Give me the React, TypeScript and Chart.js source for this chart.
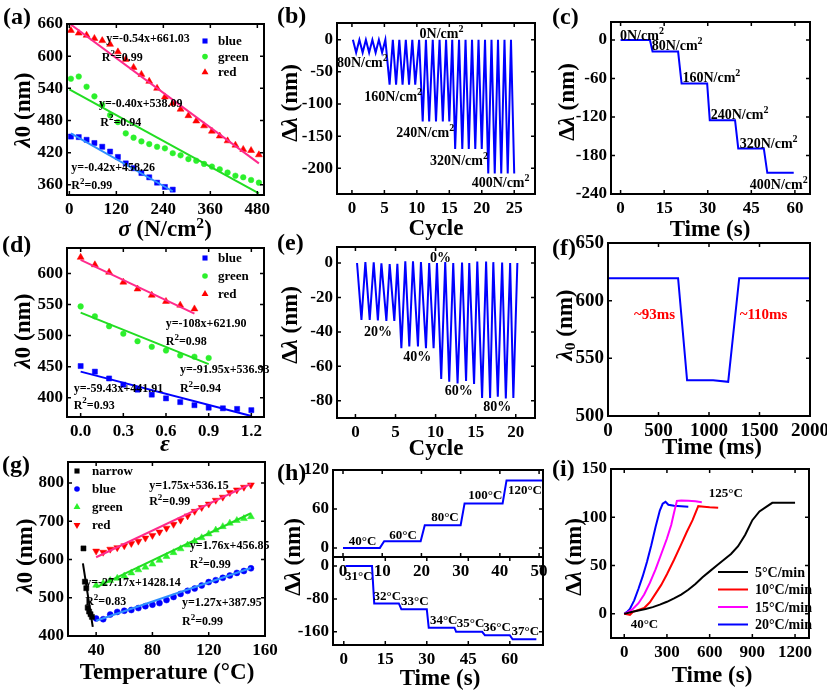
import React, { useEffect, useRef } from "react";
import { Chart, registerables } from "chart.js";
Chart.register(...registerables);

const SERIF = '"Liberation Serif", "Times New Roman", Times, serif';
Chart.defaults.font.family = SERIF;
Chart.defaults.color = "#000";

// ---------- colours ----------
const BLUE = "#0000ff";
const LBLUE = "#2f8fff";
const GREEN = "#2cf02c";
const GREENL = "#22dd22";
const RED = "#ff0000";
const PINK = "#ff2a8c";
const MAG = "#ff00ff";

// ---------- (a) stress vs wavelength ----------
const aStress = [4, 24, 44, 64, 84, 104, 124, 144, 164, 184, 204, 224, 244, 264, 284, 304, 324, 344, 364, 384, 404, 424, 444, 464, 484];
const aBlue = [450, 449, 444, 438, 431, 422, 412, 400, 391, 382, 374, 364, 356, 351];
const aGreen = [558, 562, 543, 525, 509, 490, 477, 456, 448, 441, 436, 431, 428, 419, 415, 408, 405, 399, 394, 389, 383, 377, 374, 369, 364];
const aRed = [648, 643, 639, 633, 629, 622, 608, 594, 579, 566, 553, 540, 524, 512, 501, 489, 479, 470, 460, 451, 442, 434, 426, 424, 416];
const aFitX = [0, 484];
const aBlueFitX = [4, 264];
const aBlueFitY = [456, 348];
const aGreenFitY = [538, 344];
const aRedFitY = [661, 400];
const aXTicks = [0, 120, 240, 360, 480];
const aYTicks = [360, 420, 480, 540, 600, 660];

// ---------- (b) cycles under pressure ----------
const bX = [0.15, 0.65, 1.15, 1.65, 2.15, 2.65, 3.15, 3.65, 4.15, 4.65, 5.15, 5.8, 6.3, 6.8, 7.3, 7.8, 8.3, 8.8, 9.3, 9.75, 10.35, 10.9, 11.4, 11.9, 12.45, 12.95, 13.5, 14.0, 14.5, 15.0, 15.45, 15.9, 16.5, 17.0, 17.5, 18.0, 18.5, 19.0, 19.5, 20.0, 20.5, 21.0, 21.5, 22.0, 22.5, 23.0, 23.5, 24.0, 24.5, 25.0];
const bY = [0, -20, 0, -20, 0, -20, 0, -20, 0, -20, 0, -70, 0, -70, 0, -70, 0, -70, 0, -70, 0, -127, 0, -127, 0, -127, 0, -127, 0, -127, 0, -170, 0, -170, 0, -170, 0, -170, 0, -170, 0, -208, 0, -208, 0, -208, 0, -208, 0, -208];
const bXTicks = [0, 5, 10, 15, 20, 25];
const bYTicks = [-200, -150, -100, -50, 0];

// ---------- (c) steps under pressure ----------
const cX = [0, 10.1, 11, 19.8, 21, 29.8, 30.7, 39.4, 40.5, 49.3, 50.5, 59.6];
const cY = [0, 0, -18, -18, -68, -68, -125, -125, -169, -169, -207, -207];
const cXTicks = [0, 15, 30, 45, 60];
const cYTicks = [-240, -180, -120, -60, 0];

// ---------- (d) strain vs wavelength ----------
const dStrain = [0, 0.1, 0.2, 0.3, 0.4, 0.5, 0.6, 0.7, 0.8, 0.9, 1.0, 1.1, 1.2];
const dBlue = [451, 442, 431, 421, 413, 405, 399, 393, 388, 384, 383, 382, 380];
const dGreen = [547, 531, 515, 503, 491, 482, 476, 468, 466, 464];
const dRed = [626, 614, 602, 586, 575, 565, 555, 549, 543];
const dBlueFitX = [0, 1.2];
const dBlueFitY = [442, 370.6];
const dGreenFitX = [0, 0.9];
const dGreenFitY = [537, 454];
const dRedFitX = [0, 0.8];
const dRedFitY = [622, 535.5];
const dXTicks = [0, 0.3, 0.6, 0.9, 1.2];
const dYTicks = [400, 450, 500, 550, 600];

// ---------- (e) cycles under strain ----------
const eX = [0.2, 0.75, 1.24, 1.78, 2.28, 2.8, 3.24, 3.86, 4.27, 4.85, 5.23, 5.73, 6.22, 6.72, 7.18, 7.8, 8.17, 8.8, 9.2, 9.75, 10.17, 10.7, 11.2, 11.7, 12.2, 12.74, 13.3, 13.8, 14.2, 14.8, 15.2, 15.8, 16.3, 16.8, 17.2, 17.76, 18.3, 18.76, 19.3, 19.7, 20.2];
const eY = [0, -33, 0.6, -33, 0.4, -33.4, -0.2, -33.6, -0.6, -33.6, -0.4, -49.5, 1, -48.5, 1, -48.5, 0.5, -49.5, 0, -49.5, 0, -67.4, 0.5, -69, 0, -70, 0.3, -68.5, 0, -70.3, 0.8, -78.3, 0.8, -78.3, 0.5, -77.7, 0.3, -78.6, 0, -78.3, 0];
const eXTicks = [0, 5, 10, 15, 20];
const eYTicks = [-80, -60, -40, -20, 0];

// ---------- (f) response time ----------
const fX = [0, 694, 783, 1041, 1190, 1299, 2000];
const fY = [619.5, 619.5, 531, 531, 529.6, 619.5, 619.5];
const fXTicks = [0, 500, 1000, 1500, 2000];
const fYTicks = [500, 550, 600, 650];

// ---------- (g) temperature vs wavelength ----------
const gNarrowX = [31, 32, 33, 34, 35, 36, 37];
const gNarrowY = [629, 542, 525, 474, 464, 457, 450];
const gTemp = [40, 45, 50, 55, 60, 65, 70, 75, 80, 85, 90, 95, 100, 105, 110, 115, 120, 125, 130, 135, 140, 145, 150];
const gBlue = [446, 444, 456, 463, 466, 468, 473, 478, 482, 486, 494, 502, 510, 518, 524, 532, 541, 546, 552, 558, 565, 570, 577];
const gGreen = [533, 538, 545, 551, 557, 565, 573, 580, 588, 598, 608, 618, 628, 638, 648, 657, 667, 677, 686, 695, 702, 707, 712];
const gRed = [622, 619, 627, 631, 636, 642, 648, 656, 663, 672, 682, 692, 703, 714, 726, 736, 745, 755, 763, 775, 782, 789, 795];
const gNarrowFitX = [30.6, 37.6];
const gNarrowFitY = [590, 424];
const gFitX = [40, 150];
const gBlueFitY = [440, 578];
const gGreenFitY = [527, 721];
const gRedFitY = [606, 798];
const gXTicks = [40, 80, 120, 160];
const gYTicks = [400, 500, 600, 700, 800];

// ---------- (h) temperature steps ----------
const hTopX = [0, 9.4, 10.5, 19.8, 20.85, 30, 31, 40.7, 41.7, 51];
const hTopY = [0, 0, 10.3, 10.3, 35, 35, 68.5, 68.5, 104, 104];
const hBotX = [0.6, 10.2, 11, 19.9, 20.8, 30, 30.7, 40, 40.6, 50, 51, 60, 61, 69.6];
const hBotY = [0, 0, -91, -91, -105, -105, -150, -150, -160, -160, -168, -168, -178, -178];
const hTopXTicks = [0, 10, 20, 30, 40, 50];
const hTopYTicks = [0, 60, 120];
const hBotXTicks = [0, 15, 30, 45, 60];
const hBotYTicks = [-160, -80, 0];

// ---------- (i) heating rates ----------
const iBlackX = [0, 50, 100, 150, 200, 250, 300, 350, 400, 450, 500, 550, 600, 650, 700, 750, 800, 850, 900, 950, 1000, 1040, 1100, 1200];
const iBlackY = [0, 2, 3.5, 5, 7, 9.5, 12.5, 16, 20, 25, 31, 38, 44, 50, 56, 62, 70, 82, 97, 106, 111, 115, 115, 115];
const iRedX = [0, 20, 40, 60, 100, 140, 180, 220, 260, 300, 350, 400, 440, 480, 520, 560, 600, 660];
const iRedY = [0, -0.5, -1, 2, 4, 6, 12, 21, 30, 41, 56, 72, 85, 97, 111.5, 111, 110.5, 110];
const iMagX = [0, 30, 60, 100, 140, 180, 220, 260, 300, 330, 350, 370, 400, 450, 500, 545];
const iMagY = [0, 2, 5, 11, 20, 32, 46, 62, 78, 92, 105, 117, 117.5, 117, 116.5, 115.5];
const iBlueX = [0, 20, 40, 70, 100, 130, 160, 190, 220, 250, 270, 290, 310, 350, 400, 450];
const iBlueY = [0, 2, 5, 14, 26, 39, 54, 71, 90, 107, 114, 116, 113, 112, 111.5, 111];
const iXTicks = [0, 300, 600, 900, 1200];
const iYTicks = [0, 50, 100, 150];

// ---------- helpers ----------
const pts = (xs: number[], ys: number[]) => ys.map((y, i) => ({ x: xs[i], y }));
const mk = (xs: number[], ys: number[], color: string, style: string, r: number, rot = 0) => ({
  data: pts(xs, ys), showLine: false, pointStyle: style, pointRadius: r, pointRotation: rot,
  pointBackgroundColor: color, pointBorderColor: color, pointBorderWidth: 0.5, borderColor: color, backgroundColor: color,
});
const ln = (xs: number[], ys: number[], color: string, w = 2) => ({
  data: pts(xs, ys), borderColor: color, backgroundColor: color, borderWidth: w, pointRadius: 0, tension: 0, fill: false,
});

type Txt = { x: number; y: number; t: string; size?: number; color?: string; align?: "left" | "center" | "right" };
type LegItem = { label: string; color: string; kind: string };
type Leg = { dx: number; dy: number; rowH: number; gap: number; size: number; lineW?: number; items: LegItem[] };
type Panel = {
  L: number; T: number; R: number; B: number;
  xr: number[]; yr: number[]; xt: number[]; yt: number[]; xd?: number; yd?: number; fs?: number;
  datasets: any[]; texts?: Txt[]; legend?: Leg;
};

function drawRich(ctx: CanvasRenderingContext2D, text: string, x: number, y: number, size: number, color: string, align: string) {
  const segs: { t: string; k: number }[] = [];
  let buf = "";
  for (let i = 0; i < text.length; i++) {
    const ch = text[i];
    if ((ch === "^" || ch === "_") && i + 1 < text.length) {
      if (buf) segs.push({ t: buf, k: 0 });
      buf = "";
      segs.push({ t: text[i + 1], k: ch === "^" ? 1 : -1 });
      i++;
    } else buf += ch;
  }
  if (buf) segs.push({ t: buf, k: 0 });
  const font = (k: number) => `bold ${k ? Math.round(size * 0.72) : size}px ${SERIF}`;
  let total = 0;
  const ws = segs.map((s) => { ctx.font = font(s.k); const w = ctx.measureText(s.t).width; total += w; return w; });
  let cx = align === "center" ? x - total / 2 : align === "right" ? x - total : x;
  const base = y + size * 0.33;
  ctx.textAlign = "left";
  ctx.textBaseline = "alphabetic";
  ctx.fillStyle = color;
  segs.forEach((s, i) => {
    ctx.font = font(s.k);
    ctx.fillText(s.t, cx, base + (s.k === 1 ? -size * 0.42 : s.k === -1 ? size * 0.2 : 0));
    cx += ws[i];
  });
}

function drawMarker(ctx: CanvasRenderingContext2D, kind: string, x: number, y: number, r: number, color: string) {
  ctx.fillStyle = color;
  ctx.beginPath();
  if (kind === "rect") {
    const s = r * Math.SQRT1_2;
    ctx.rect(x - s, y - s, 2 * s, 2 * s);
  } else if (kind === "circle") {
    ctx.arc(x, y, r, 0, Math.PI * 2);
  } else {
    let a = kind === "triangleDown" ? Math.PI : 0;
    ctx.moveTo(x + Math.sin(a) * r, y - Math.cos(a) * r);
    a += (2 * Math.PI) / 3;
    ctx.lineTo(x + Math.sin(a) * r, y - Math.cos(a) * r);
    a += (2 * Math.PI) / 3;
    ctx.lineTo(x + Math.sin(a) * r, y - Math.cos(a) * r);
    ctx.closePath();
  }
  ctx.fill();
}

function ChartPanel({ p }: { p: Panel }) {
  const ref = useRef<HTMLCanvasElement>(null);
  const cl = p.L - 64;
  const ct = p.T - 14;
  const cr = Math.min(827, p.R + 26);
  const cb = p.B + 30;
  const w = cr - cl;
  const h = cb - ct;
  useEffect(() => {
    const fs = p.fs || 17;
    const tickFont = { family: SERIF, size: fs, weight: "bold" as const };
    const overlay = {
      id: "overlay",
      afterDatasetsDraw(chart: any) {
        const { ctx, chartArea: a, scales } = chart;
        const xs = scales.x, ys = scales.y;
        ctx.save();
        (p.texts || []).forEach((t) => {
          drawRich(ctx, t.t, xs.getPixelForValue(t.x), ys.getPixelForValue(t.y), t.size || 12, t.color || "#000", t.align || "left");
        });
        if (p.legend) {
          const lg = p.legend;
          lg.items.forEach((it, i) => {
            const mx = a.left + lg.dx;
            const my = a.top + lg.dy + i * lg.rowH;
            if (it.kind === "line") {
              ctx.strokeStyle = it.color;
              ctx.lineWidth = 2;
              ctx.beginPath();
              ctx.moveTo(mx, my);
              ctx.lineTo(mx + (lg.lineW || 30), my);
              ctx.stroke();
            } else {
              drawMarker(ctx, it.kind, mx, my, it.kind === "circle" ? 2.8 : it.kind === "rect" ? 3.6 : 4, it.color);
            }
            drawRich(ctx, it.label, mx + lg.gap, my, lg.size, "#000", "left");
          });
        }
        ctx.strokeStyle = "#000";
        ctx.lineWidth = 2;
        ctx.strokeRect(a.left, a.top, a.right - a.left, a.bottom - a.top);
        ctx.lineWidth = 1.5;
        const tl = 4;
        ctx.beginPath();
        xs.ticks.forEach((t: any) => {
          const px = xs.getPixelForValue(t.value);
          ctx.moveTo(px, a.bottom); ctx.lineTo(px, a.bottom - tl);
          ctx.moveTo(px, a.top); ctx.lineTo(px, a.top + tl);
        });
        ys.ticks.forEach((t: any) => {
          const py = ys.getPixelForValue(t.value);
          ctx.moveTo(a.left, py); ctx.lineTo(a.left + tl, py);
          ctx.moveTo(a.right, py); ctx.lineTo(a.right - tl, py);
        });
        ctx.stroke();
        ctx.restore();
      },
    };
    const chart = new Chart(ref.current as HTMLCanvasElement, {
      type: "line",
      data: { datasets: p.datasets },
      options: {
        responsive: false,
        animation: false,
        devicePixelRatio: 1,
        events: [],
        layout: { padding: { left: 0, top: p.T - ct, right: cr - p.R, bottom: 0 } },
        plugins: { legend: { display: false }, tooltip: { enabled: false } },
        scales: {
          x: {
            type: "linear", min: p.xr[0], max: p.xr[1],
            grid: { display: false, drawTicks: false }, border: { display: false },
            ticks: { font: tickFont, color: "#000", padding: 4, autoSkip: false, maxRotation: 0, callback: (v: any) => Number(v).toFixed(p.xd || 0) },
            afterBuildTicks: (s: any) => { s.ticks = p.xt.map((v) => ({ value: v })); },
            afterFit: (s: any) => { s.height = cb - p.B; s.paddingLeft = 0; s.paddingRight = 0; },
          },
          y: {
            type: "linear", min: p.yr[0], max: p.yr[1],
            grid: { display: false, drawTicks: false }, border: { display: false },
            ticks: { font: tickFont, color: "#000", padding: 4, autoSkip: false, callback: (v: any) => Number(v).toFixed(p.yd || 0) },
            afterBuildTicks: (s: any) => { s.ticks = p.yt.map((v) => ({ value: v })); },
            afterFit: (s: any) => { s.width = p.L - cl; s.paddingTop = 0; s.paddingBottom = 0; },
          },
        },
      } as any,
      plugins: [overlay],
    });
    return () => chart.destroy();
  }, []);
  return <canvas ref={ref} width={w} height={h} style={{ position: "absolute", left: cl, top: ct, width: w, height: h }} />;
}

// ---------- panel configs ----------
const panels: Panel[] = [
  {
    L: 67, T: 24, R: 264, B: 195, xr: [-6, 497], yr: [341, 660], xt: aXTicks, yt: aYTicks,
    datasets: [
      ln(aFitX, aRedFitY, PINK), ln(aFitX, aGreenFitY, GREENL), ln(aBlueFitX, aBlueFitY, LBLUE),
      mk(aStress, aBlue, BLUE, "rect", 3.6), mk(aStress, aGreen, GREEN, "circle", 2.8), mk(aStress, aRed, RED, "triangle", 4),
    ],
    texts: [
      { x: 94, y: 633, t: "y=-0.54x+661.03" }, { x: 83, y: 599, t: "R^2=0.99" },
      { x: 75.5, y: 512, t: "y=-0.40x+538.09" }, { x: 79, y: 478, t: "R^2=0.94" },
      { x: 5, y: 394, t: "y=-0.42x+458.26" }, { x: 5, y: 360, t: "R^2=0.99" },
    ],
    legend: { dx: 138, dy: 17, rowH: 15.6, gap: 13, size: 13, items: [
      { label: "blue", color: BLUE, kind: "rect" }, { label: "green", color: GREEN, kind: "circle" }, { label: "red", color: RED, kind: "triangle" }] },
  },
  {
    L: 337, T: 23, R: 535, B: 194, xr: [-2.3, 28.2], yr: [-240, 26], xt: bXTicks, yt: bYTicks,
    datasets: [ln(bX, bY, BLUE)],
    texts: [
      { x: 13.8, y: 10.4, t: "0N/cm^2", size: 14, align: "center" }, { x: 1.6, y: -35, t: "80N/cm^2", size: 14, align: "center" },
      { x: 6.35, y: -88, t: "160N/cm^2", size: 14, align: "center" }, { x: 11.3, y: -144, t: "240N/cm^2", size: 14, align: "center" },
      { x: 16.5, y: -188, t: "320N/cm^2", size: 14, align: "center" }, { x: 22.9, y: -222, t: "400N/cm^2", size: 14, align: "center" },
    ],
  },
  {
    L: 611, T: 22, R: 810, B: 194, xr: [-3.3, 65.2], yr: [-240, 28], xt: cXTicks, yt: cYTicks,
    datasets: [ln(cX, cY, BLUE)],
    texts: [
      { x: -0.2, y: 7, t: "0N/cm^2", size: 14 }, { x: 10.7, y: -9, t: "80N/cm^2", size: 14 },
      { x: 21.3, y: -58, t: "160N/cm^2", size: 14 }, { x: 31, y: -116, t: "240N/cm^2", size: 14 },
      { x: 41, y: -161, t: "320N/cm^2", size: 14 }, { x: 44.5, y: -225, t: "400N/cm^2", size: 14 },
    ],
  },
  {
    L: 67, T: 248, R: 264, B: 417, xr: [-0.096, 1.289], yr: [369, 641], xt: dXTicks, yt: dYTicks, xd: 1,
    datasets: [
      ln(dRedFitX, dRedFitY, PINK), ln(dGreenFitX, dGreenFitY, GREENL), ln(dBlueFitX, dBlueFitY, BLUE),
      mk(dStrain, dBlue, BLUE, "rect", 3.6), mk(dStrain, dGreen, GREEN, "circle", 2.8), mk(dStrain, dRed, RED, "triangle", 4),
    ],
    texts: [
      { x: 0.598, y: 519.6, t: "y=-108x+621.90" }, { x: 0.598, y: 491, t: "R^2=0.98" },
      { x: 0.698, y: 445.6, t: "y=-91.95x+536.93" }, { x: 0.698, y: 416, t: "R^2=0.94" },
      { x: -0.049, y: 416, t: "y=-59.43x+441.91" }, { x: -0.049, y: 389, t: "R^2=0.93" },
    ],
    legend: { dx: 138, dy: 10, rowH: 18, gap: 13, size: 13, items: [
      { label: "blue", color: BLUE, kind: "rect" }, { label: "green", color: GREEN, kind: "circle" }, { label: "red", color: RED, kind: "triangle" }] },
  },
  {
    L: 337, T: 247, R: 535, B: 418, xr: [-2.3, 22.4], yr: [-90, 9.3], xt: eXTicks, yt: eYTicks,
    datasets: [ln(eX, eY, BLUE)],
    texts: [
      { x: 10.6, y: 3, t: "0%", size: 14, align: "center" }, { x: 2.8, y: -39.8, t: "20%", size: 14, align: "center" },
      { x: 7.7, y: -54, t: "40%", size: 14, align: "center" }, { x: 12.9, y: -74, t: "60%", size: 14, align: "center" },
      { x: 17.7, y: -83, t: "80%", size: 14, align: "center" },
    ],
  },
  {
    L: 608, T: 243, R: 810, B: 416, xr: [0, 2000], yr: [500, 650], xt: fXTicks, yt: fYTicks, fs: 19,
    datasets: [ln(fX, fY, BLUE)],
    texts: [
      { x: 460, y: 588, t: "~93ms", size: 15, color: RED, align: "center" },
      { x: 1540, y: 588, t: "~110ms", size: 15, color: RED, align: "center" },
    ],
  },
  {
    L: 68, T: 462, R: 265, B: 636, xr: [20, 160], yr: [400, 855], xt: gXTicks, yt: gYTicks,
    datasets: [
      ln(gFitX, gRedFitY, PINK), ln(gFitX, gGreenFitY, GREENL), ln(gFitX, gBlueFitY, LBLUE), ln(gNarrowFitX, gNarrowFitY, "#000"),
      mk(gNarrowX, gNarrowY, "#000", "rect", 3.6), mk(gTemp, gBlue, BLUE, "circle", 3), mk(gTemp, gGreen, GREEN, "triangle", 4),
      mk(gTemp, gRed, RED, "triangle", 4, 180),
    ],
    texts: [
      { x: 77.7, y: 795.6, t: "y=1.75x+536.15" }, { x: 77.7, y: 754, t: "R^2=0.99" },
      { x: 106.5, y: 637, t: "y=1.76x+456.85" }, { x: 106.5, y: 588, t: "R^2=0.99" },
      { x: 32.2, y: 540, t: "y=-27.17x+1428.14" }, { x: 32.2, y: 492, t: "R^2=0.83" },
      { x: 101, y: 488, t: "y=1.27x+387.95" }, { x: 101, y: 440, t: "R^2=0.99" },
    ],
    legend: { dx: 9, dy: 9, rowH: 18, gap: 15, size: 13, items: [
      { label: "narrow", color: "#000", kind: "rect" }, { label: "blue", color: BLUE, kind: "circle" },
      { label: "green", color: GREEN, kind: "triangle" }, { label: "red", color: RED, kind: "triangleDown" }] },
  },
  {
    L: 333, T: 470, R: 543, B: 557, xr: [-2.55, 51], yr: [-14, 120], xt: hTopXTicks, yt: hTopYTicks,
    datasets: [ln(hTopX, hTopY, BLUE)],
    texts: [
      { x: 5, y: 11.8, t: "40°C", size: 13, align: "center" }, { x: 15.3, y: 20.6, t: "60°C", size: 13, align: "center" },
      { x: 26, y: 48, t: "80°C", size: 13, align: "center" }, { x: 36.3, y: 81.5, t: "100°C", size: 13, align: "center" },
      { x: 46.4, y: 90, t: "120°C", size: 13, align: "center" },
    ],
  },
  {
    L: 333, T: 557, R: 543, B: 645, xr: [-3.9, 72], yr: [-192, 22], xt: hBotXTicks, yt: hBotYTicks,
    datasets: [ln(hBotX, hBotY, BLUE)],
    texts: [
      { x: 5.4, y: -22.6, t: "31°C", size: 13, align: "center" }, { x: 15.7, y: -71, t: "32°C", size: 13, align: "center" },
      { x: 25.7, y: -84.4, t: "33°C", size: 13, align: "center" }, { x: 36.1, y: -131, t: "34°C", size: 13, align: "center" },
      { x: 45.8, y: -139, t: "35°C", size: 13, align: "center" }, { x: 55.4, y: -147, t: "36°C", size: 13, align: "center" },
      { x: 65.6, y: -157.6, t: "37°C", size: 13, align: "center" },
    ],
  },
  {
    L: 611, T: 469, R: 809, B: 638, xr: [-93, 1298], yr: [-25, 150], xt: iXTicks, yt: iYTicks,
    datasets: [ln(iBlackX, iBlackY, "#000"), ln(iRedX, iRedY, RED), ln(iMagX, iMagY, MAG), ln(iBlueX, iBlueY, BLUE)],
    texts: [
      { x: 714, y: 125, t: "125°C", size: 13, align: "center" }, { x: 142, y: -9.7, t: "40°C", size: 13, align: "center" },
    ],
    legend: { dx: 107, dy: 103, rowH: 17.5, gap: 37, size: 14, lineW: 30, items: [
      { label: "5°C/min", color: "#000", kind: "line" }, { label: "10°C/min", color: RED, kind: "line" },
      { label: "15°C/min", color: MAG, kind: "line" }, { label: "20°C/min", color: BLUE, kind: "line" }] },
  },
];

// ---------- HTML text ----------
const Sup = ({ c }: { c: string }) => <sup style={{ fontSize: "0.68em", verticalAlign: "0.5em", lineHeight: 0 }}>{c}</sup>;
const Sub = ({ c }: { c: string }) => <sub style={{ fontSize: "0.68em", verticalAlign: "-0.25em", lineHeight: 0 }}>{c}</sub>;

function T({ x, y, size, rot, children }: { x: number; y: number; size: number; rot?: boolean; children: any }) {
  return (
    <div style={{
      position: "absolute", left: x, top: y, transform: `translate(-50%, -50%)${rot ? " rotate(-90deg)" : ""}`,
      font: `bold ${size}px ${SERIF}`, whiteSpace: "nowrap", lineHeight: 1, color: "#000",
    }}>{children}</div>
  );
}
function PL({ x, y, t }: { x: number; y: number; t: string }) {
  return <div style={{ position: "absolute", left: x, top: y - 14, font: `bold 24px ${SERIF}`, lineHeight: 1, color: "#000" }}>{t}</div>;
}

const Lam0 = () => <><i>λ</i>0 (nm)</>;
const DLam = () => <>Δ<i>λ</i> (nm)</>;

export default function App() {
  return (
    <div style={{ position: "fixed", left: 0, top: 0, width: 827, height: 690, background: "#fff", overflow: "hidden" }}>
      {panels.map((p, i) => <ChartPanel key={i} p={p} />)}
      <PL x={3} y={18} t="(a)" />
      <PL x={277} y={17} t="(b)" />
      <PL x={552} y={18} t="(c)" />
      <PL x={2} y={246} t="(d)" />
      <PL x={277} y={244} t="(e)" />
      <PL x={552} y={249} t="(f)" />
      <PL x={2} y={466} t="(g)" />
      <PL x={277} y={474} t="(h)" />
      <PL x={552} y={470} t="(i)" />

      <T x={165} y={228} size={23}><i>σ</i> (N/cm<Sup c="2" />)</T>
      <T x={436} y={227} size={23}>Cycle</T>
      <T x={710} y={228} size={23}>Time (s)</T>
      <T x={165} y={443} size={24}><i>ε</i></T>
      <T x={436} y={447} size={23}>Cycle</T>
      <T x={712} y={446} size={23}>Time (ms)</T>
      <T x={167} y={671} size={23}>Temperature (°C)</T>
      <T x={440} y={677} size={23}>Time (s)</T>
      <T x={712} y={674} size={23}>Time (s)</T>

      <T x={22} y={110} size={23} rot><Lam0 /></T>
      <T x={289} y={103} size={23} rot><DLam /></T>
      <T x={566} y={102} size={23} rot><DLam /></T>
      <T x={22} y={331} size={23} rot><Lam0 /></T>
      <T x={289} y={325} size={23} rot><DLam /></T>
      <T x={564} y={325} size={23} rot><><i>λ</i><Sub c="0" /> (nm)</></T>
      <T x={24} y={556} size={23} rot><Lam0 /></T>
      <T x={292} y={557} size={23} rot><DLam /></T>
      <T x={573} y={557} size={23} rot><DLam /></T>
    </div>
  );
}
